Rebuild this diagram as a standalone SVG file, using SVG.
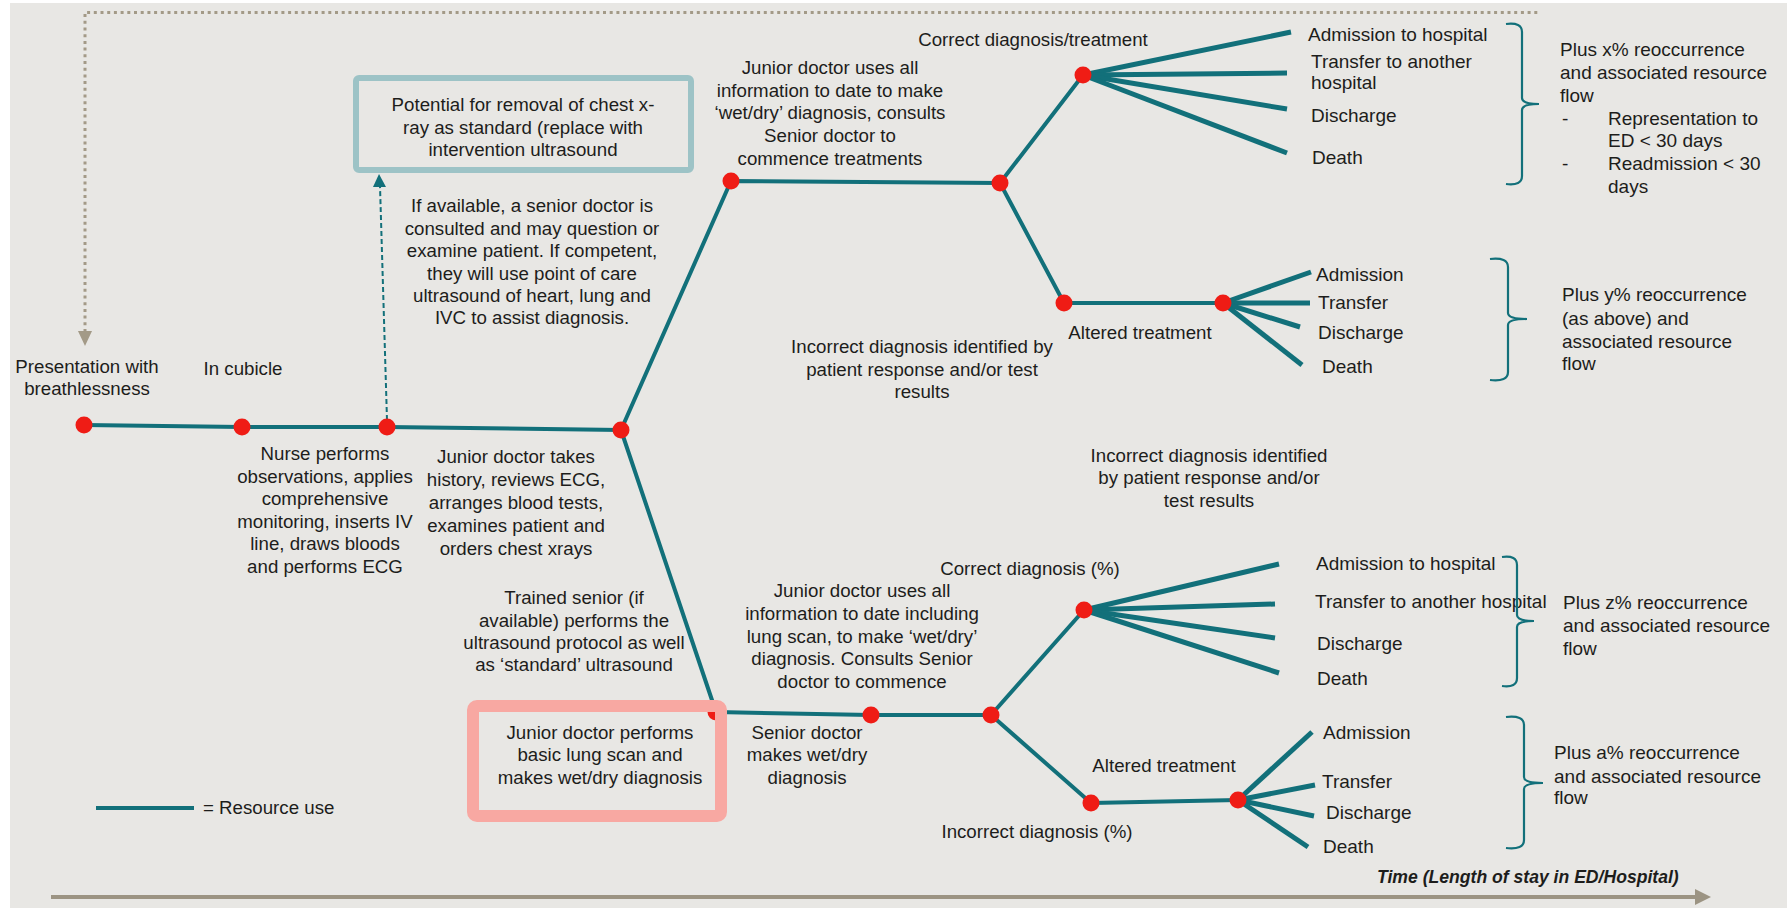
<svg xmlns="http://www.w3.org/2000/svg" width="1787" height="908" viewBox="0 0 1787 908">
<defs>
<style>
text{font-family:"Liberation Sans",Arial,sans-serif;font-size:18.7px;fill:#1d1d1b}
.c{text-anchor:middle}
.r{font-size:19px}
.ln{stroke:#12707a;stroke-width:4;fill:none;stroke-linecap:round;stroke-linejoin:round}
.fan{stroke:#12707a;stroke-width:5;fill:none}
.nd{fill:#ef1c15}
.br{stroke:#12707a;stroke-width:2.2;fill:none}
.t{font-weight:bold;font-style:italic;font-size:17.6px}
</style>
</defs>
<rect x="0" y="0" width="1787" height="908" fill="#ffffff"/>
<rect x="10" y="3" width="1777" height="905" fill="#e8e7e4"/>

<g id="timeline-loop">
<path d="M85,332 V12.5 H1538" stroke="#a39a87" stroke-width="3" stroke-dasharray="3 3.7" fill="none"/>
<polygon points="78,331 92,331 85,346" fill="#a39a87"/>
</g>
<g id="time-axis">
<line x1="51" y1="897" x2="1697" y2="897" stroke="#9c9483" stroke-width="4"/>
<polygon points="1695,889 1711,897 1695,905" fill="#9c9483"/>
<text class="t" x="1377" y="883">Time (Length of stay in ED/Hospital)</text>
</g>

<g id="connectors">
<polyline class="ln" points="84,425 242,427 387,427 621,430"/>
<polyline class="ln" points="621,430 731,181 1000,183 1083,75"/>
<polyline class="ln" points="1000,183 1064,303 1223,303"/>
<polyline class="ln" points="621,430 716,712 871,715 991,715"/>
<polyline class="ln" points="991,715 1084,610"/>
<polyline class="ln" points="991,715 1091,803 1238,800"/>
<g class="fan">
<line x1="1083" y1="75" x2="1291" y2="32"/>
<line x1="1083" y1="75" x2="1287" y2="73"/>
<line x1="1083" y1="75" x2="1287" y2="109"/>
<line x1="1083" y1="75" x2="1287" y2="153"/>
<line x1="1223" y1="303" x2="1311" y2="272"/>
<line x1="1223" y1="303" x2="1310" y2="303"/>
<line x1="1223" y1="303" x2="1300" y2="327"/>
<line x1="1223" y1="303" x2="1302" y2="365"/>
<line x1="1084" y1="610" x2="1279" y2="564"/>
<line x1="1084" y1="610" x2="1275" y2="604"/>
<line x1="1084" y1="610" x2="1275" y2="638"/>
<line x1="1084" y1="610" x2="1279" y2="673"/>
<line x1="1238" y1="800" x2="1312" y2="732"/>
<line x1="1238" y1="800" x2="1315" y2="785"/>
<line x1="1238" y1="800" x2="1314" y2="816"/>
<line x1="1238" y1="800" x2="1308" y2="847"/>
</g>
<line x1="387" y1="420" x2="380" y2="186" stroke="#12707a" stroke-width="2" stroke-dasharray="5 3"/>
<polygon points="373,187 386,187 379,174" fill="#12707a"/>
</g>

<g id="nodes">
<circle class="nd" cx="84" cy="425" r="8.5"/>
<circle class="nd" cx="242" cy="427" r="8.5"/>
<circle class="nd" cx="387" cy="427" r="8.5"/>
<circle class="nd" cx="621" cy="430" r="8.5"/>
<circle class="nd" cx="731" cy="181" r="8.5"/>
<circle class="nd" cx="1000" cy="183" r="8.5"/>
<circle class="nd" cx="1083" cy="75" r="8.5"/>
<circle class="nd" cx="1064" cy="303" r="8.5"/>
<circle class="nd" cx="1223" cy="303" r="8.5"/>
<circle class="nd" cx="716" cy="712" r="8.5"/>
<circle class="nd" cx="871" cy="715" r="8.5"/>
<circle class="nd" cx="991" cy="715" r="8.5"/>
<circle class="nd" cx="1084" cy="610" r="8.5"/>
<circle class="nd" cx="1091" cy="803" r="8.5"/>
<circle class="nd" cx="1238" cy="800" r="8.5"/>
</g>

<g id="presentation">
<text class="c" x="87" y="373">Presentation with</text>
<text class="c" x="87" y="395">breathlessness</text>
</g>
<g id="cubicle"><text class="c" x="243" y="375">In cubicle</text></g>
<g id="nurse">
<text class="c" x="325" y="460">Nurse performs</text>
<text class="c" x="325" y="483">observations, applies</text>
<text class="c" x="325" y="505">comprehensive</text>
<text class="c" x="325" y="528">monitoring, inserts IV</text>
<text class="c" x="325" y="550">line, draws bloods</text>
<text class="c" x="325" y="573">and performs ECG</text>
</g>
<g id="junior-history">
<text class="c" x="516" y="463">Junior doctor takes</text>
<text class="c" x="516" y="486">history, reviews ECG,</text>
<text class="c" x="516" y="509">arranges blood tests,</text>
<text class="c" x="516" y="532">examines patient and</text>
<text class="c" x="516" y="555">orders chest xrays</text>
</g>
<g id="senior-consult">
<text class="c" x="532" y="212">If available, a senior doctor is</text>
<text class="c" x="532" y="235">consulted and may question or</text>
<text class="c" x="532" y="257">examine patient. If competent,</text>
<text class="c" x="532" y="280">they will use point of care</text>
<text class="c" x="532" y="302">ultrasound of heart, lung and</text>
<text class="c" x="532" y="324">IVC to assist diagnosis.</text>
</g>
<g id="xray-box">
<rect x="356" y="78" width="335" height="92" rx="3" fill="none" stroke="#9dc3c6" stroke-width="6"/>
<text class="c" x="523" y="111">Potential for removal of chest x-</text>
<text class="c" x="523" y="134">ray as standard (replace with</text>
<text class="c" x="523" y="156">intervention ultrasound</text>
</g>
<g id="trained-senior">
<text class="c" x="574" y="604">Trained senior (if</text>
<text class="c" x="574" y="627">available) performs the</text>
<text class="c" x="574" y="649">ultrasound protocol as well</text>
<text class="c" x="574" y="671">as ‘standard’ ultrasound</text>
</g>
<g id="lung-scan-box">
<rect x="473" y="706" width="248" height="110" rx="4" fill="none" stroke="#f8a8a2" stroke-width="12"/>
<text class="c" x="600" y="739">Junior doctor performs</text>
<text class="c" x="600" y="761">basic lung scan and</text>
<text class="c" x="600" y="784">makes wet/dry diagnosis</text>
</g>
<g id="junior-wetdry">
<text class="c" x="830" y="74">Junior doctor uses all</text>
<text class="c" x="830" y="97">information to date to make</text>
<text class="c" x="830" y="119">‘wet/dry’ diagnosis, consults</text>
<text class="c" x="830" y="142">Senior doctor to</text>
<text class="c" x="830" y="165">commence treatments</text>
</g>
<g id="correct-upper"><text class="c" x="1033" y="46">Correct diagnosis/treatment</text></g>
<g id="incorrect-upper">
<text class="c" x="922" y="353">Incorrect diagnosis identified by</text>
<text class="c" x="922" y="376">patient response and/or test</text>
<text class="c" x="922" y="398">results</text>
</g>
<g id="altered-upper"><text class="c" x="1140" y="339">Altered treatment</text></g>
<g id="incorrect-mid">
<text class="c" x="1209" y="462">Incorrect diagnosis identified</text>
<text class="c" x="1209" y="484">by patient response and/or</text>
<text class="c" x="1209" y="507">test results</text>
</g>
<g id="correct-lower"><text class="c" x="1030" y="575">Correct diagnosis (%)</text></g>
<g id="junior-lungscan">
<text class="c" x="862" y="597">Junior doctor uses all</text>
<text class="c" x="862" y="620">information to date including</text>
<text class="c" x="862" y="643">lung scan, to make ‘wet/dry’</text>
<text class="c" x="862" y="665">diagnosis. Consults Senior</text>
<text class="c" x="862" y="688">doctor to commence</text>
</g>
<g id="senior-wetdry">
<text class="c" x="807" y="739">Senior doctor</text>
<text class="c" x="807" y="761">makes wet/dry</text>
<text class="c" x="807" y="784">diagnosis</text>
</g>
<g id="altered-lower"><text class="c" x="1164" y="772">Altered treatment</text></g>
<g id="incorrect-lower"><text class="c" x="1037" y="838">Incorrect diagnosis (%)</text></g>

<g id="outcomes-1">
<text class="r" x="1308" y="41">Admission to hospital</text>
<text class="r" x="1311" y="68">Transfer to another</text>
<text class="r" x="1311" y="89">hospital</text>
<text class="r" x="1311" y="122">Discharge</text>
<text class="r" x="1312" y="164">Death</text>
</g>
<g id="outcomes-2">
<text class="r" x="1316" y="281">Admission</text>
<text class="r" x="1318" y="309">Transfer</text>
<text class="r" x="1318" y="339">Discharge</text>
<text class="r" x="1322" y="373">Death</text>
</g>
<g id="outcomes-3">
<text class="r" x="1316" y="570">Admission to hospital</text>
<text class="r" x="1315" y="608">Transfer to another hospital</text>
<text class="r" x="1317" y="650">Discharge</text>
<text class="r" x="1317" y="685">Death</text>
</g>
<g id="outcomes-4">
<text class="r" x="1323" y="739">Admission</text>
<text class="r" x="1322" y="788">Transfer</text>
<text class="r" x="1326" y="819">Discharge</text>
<text class="r" x="1323" y="853">Death</text>
</g>

<g id="brace-x">
<path class="br" d="M1506,24 Q1522,22 1522,32 V98 Q1522,104 1539,104 Q1522,104 1522,110 V176 Q1522,186 1506,184"/>
<text class="r" x="1560" y="56">Plus x% reoccurrence</text>
<text class="r" x="1560" y="79">and associated resource</text>
<text class="r" x="1560" y="102">flow</text>
<text class="r" x="1562" y="125">-</text>
<text class="r" x="1608" y="125">Representation to</text>
<text class="r" x="1608" y="147">ED &lt; 30 days</text>
<text class="r" x="1562" y="170">-</text>
<text class="r" x="1608" y="170">Readmission &lt; 30</text>
<text class="r" x="1608" y="193">days</text>
</g>
<g id="brace-y">
<path class="br" d="M1490,259 Q1508,257 1508,267 V313 Q1508,319 1527,319 Q1508,319 1508,325 V372 Q1508,382 1490,380"/>
<text class="r" x="1562" y="301">Plus y% reoccurrence</text>
<text class="r" x="1562" y="325">(as above) and</text>
<text class="r" x="1562" y="348">associated resource</text>
<text class="r" x="1562" y="370">flow</text>
</g>
<g id="brace-z">
<path class="br" d="M1502,557 Q1517,555 1517,565 V615 Q1517,621 1534,621 Q1517,621 1517,627 V678 Q1517,688 1502,686"/>
<text class="r" x="1563" y="609">Plus z% reoccurrence</text>
<text class="r" x="1563" y="632">and associated resource</text>
<text class="r" x="1563" y="655">flow</text>
</g>
<g id="brace-a">
<path class="br" d="M1506,717 Q1524,715 1524,725 V777 Q1524,783 1543,783 Q1524,783 1524,789 V840 Q1524,850 1506,848"/>
<text class="r" x="1554" y="759">Plus a% reoccurrence</text>
<text class="r" x="1554" y="783">and associated resource</text>
<text class="r" x="1554" y="804">flow</text>
</g>

<g id="legend">
<line x1="96" y1="808" x2="194" y2="808" stroke="#12707a" stroke-width="4"/>
<text x="203" y="814">= Resource use</text>
</g>
</svg>
